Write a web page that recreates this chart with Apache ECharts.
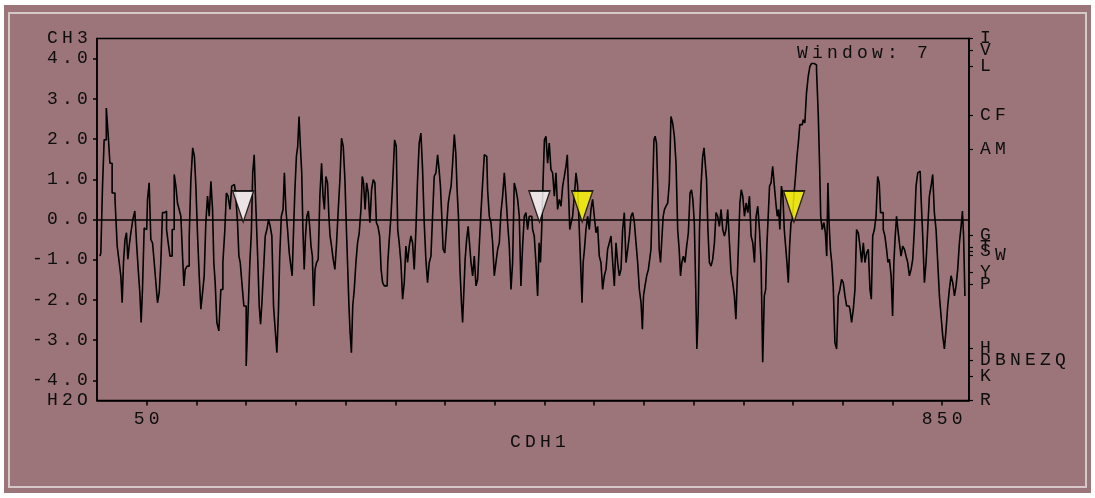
<!DOCTYPE html>
<html>
<head>
<meta charset="utf-8">
<title>CDH1 hydropathy</title>
<script src="https://cdn.jsdelivr.net/npm/echarts@6.0.0/dist/echarts.min.js"></script>
<style>
  html, body { margin: 0; padding: 0; background: #ffffff; }
  #bg { position: absolute; left: 4px; top: 5px; width: 1087px; height: 488px; background: #9b7579; }
  #edge { position: absolute; left: 8px; top: 12px; width: 1079px; height: 476px; box-sizing: border-box; border: 2px solid #d6c7c9; }
  #chart { position: absolute; left: 0; top: 0; width: 1095px; height: 498px; }
</style>
</head>
<body>
<div id="bg"></div>
<div id="edge"></div>
<div id="chart"></div>
<script>
// residue position along CDH1 and hydropathy (window 7)
const residue = [
  3, 4.7, 6.4, 8, 10.7, 12, 14, 16.4, 19.8, 20.8, 23.1, 24.8, 25.8, 27.5, 28.8, 30.5, 31.5, 33.2, 34.9, 37.2,
  38.9, 40.6, 42.3, 43.9, 44.9, 46.6, 48.3, 50, 51.6, 53.3, 55, 56.7, 58.4, 60, 61.7, 63.4, 65, 66.7, 69.1, 70.8,
  72.4, 74.4, 76.8, 78.5, 80.1, 81.8, 83.5, 85.2, 86.9, 87.9, 89.5, 91.9, 93.6, 95.2, 97.3, 98.6, 100.3, 102, 103.6, 105.3, 107,
  // 108-223
  108.6, 110.3, 112, 113.7, 115.4, 117, 118, 119.7, 121.4, 123.7, 125.4, 127.8, 129.4, 130.8, 132.8, 134.8, 136.2, 138.2, 140.5, 142.2,
  143.2, 144.9, 146.5, 148.9, 151.2, 152.9, 154.6, 155.9, 157.3, 158.9, 159.9, 161.3, 162.3, 164, 165, 166.7, 168.4, 170, 171.7, 173.4,
  175, 176.7, 178.4, 180, 181.8, 183.1, 184.4, 186.4, 187.8, 189.1, 190.8, 192.5, 194.2, 195.8, 196.8, 198.2, 199.9, 201.2, 202.5, 203.9,
  205.2, 206.6, 207.6, 209.2, 210.2, 211.9, 213.2, 214.6, 215.9, 217.3, 218.6, 220, 221.6, 223.3,
  // 225-335
  225, 226.7, 228, 229.4, 231, 232.7, 233.7, 235.1, 236.7, 238.4, 240.1, 241.8, 243.5, 245.1, 246.8, 248.5, 250.2, 251.5, 252.9, 253.9,
  255.2, 256.5, 257.9, 259.6, 261.2, 262.9, 264.6, 266.3, 267.3, 268.9, 270.3, 272, 273.6, 275.3, 277, 278.7, 280.3, 281.7, 283.4, 285.1,
  286.4, 288.1, 289.8, 291.8, 293.1, 294.8, 296.5, 298.5, 300.1, 301.8, 303.1, 304.8, 306.5, 308.2, 309.8, 311.5, 313.2, 314.9, 316.5, 318.2,
  319.9, 321.6, 323.2, 324.9, 326.6, 328.3, 329.9, 331.6, 333.3, 335,
  // 336-444
  336.7, 338.3, 340, 341.7, 343.4, 344.7, 346.1, 347.4, 348.8, 350.8, 352.4, 354.1, 355.5, 356.8, 358.5, 360.2, 361.5, 362.8, 364.2, 365.9,
  367.2, 368.2, 369.6, 370.9, 372.6, 373.9, 375.3, 377, 378.6, 380.3, 382, 383.6, 385.3, 387, 388.7, 390.4, 392, 393.7, 395.4, 397.1,
  398.7, 400.4, 402.1, 403.8, 405.4, 407.1, 408.8, 410.5, 412.1, 413.8, 415.5, 417.2, 418.8, 420.5, 422.2, 423.9, 425.5, 427.2, 428.9, 430.6,
  432.2, 433.9, 435.6, 437.3, 438.9, 440.6, 442.3, 444,
  // 445-555
  445.3, 446.7, 448, 449.3, 450.7, 452.4, 454, 455.7, 457.4, 459.1, 460.8, 462.4, 464.1, 465.8, 467.5, 469.2, 470.8, 472.5, 473.5, 474.8,
  476.2, 477.5, 479.2, 480.9, 482.6, 484.2, 485.9, 487.3, 488.3, 489.6, 490.9, 492.6, 494.3, 496, 497.6, 499.3, 501, 502.7, 504.3, 506,
  507.7, 509.4, 511.1, 512.7, 514.4, 516.1, 517.8, 519.5, 521.1, 522.8, 524.5, 526.2, 527.8, 529.5, 531.2, 532.9, 534.6, 536.2, 537.9, 539.6,
  541.3, 542.9, 544.6, 546.3, 548, 549, 550.3, 552, 553.7, 555.4,
  // 556-667
  556.3, 558, 559.6, 560.7, 562, 563.4, 564.7, 566.1, 567.4, 568.7, 570.1, 571.4, 573.1, 574.8, 576.4, 578.1, 579.8, 581.5, 583.2, 584.8,
  586.2, 587.5, 588.9, 590.5, 592.2, 593.9, 595.6, 597.3, 598.6, 599.9, 601.6, 602.6, 604, 605.3, 606.6, 608.3, 610, 611, 612.4, 613.7,
  615.1, 616.7, 618.4, 620.1, 621.8, 623.4, 625.1, 626.8, 628.5, 630.2, 631.8, 633.5, 635.2, 636.9, 638.5, 640.2, 641.9, 643.2, 644.6, 645.9,
  647.3, 648.6, 650.3, 652, 653.7, 655.4, 657, 658.7, 660.4, 662.1, 663.7, 665.4, 667.1,
  // 668-778
  668.7, 670.3, 672, 673, 674.4, 675.7, 677.1, 678.7, 680.4, 682.1, 683.4, 684.8, 686.1, 687.5, 689.2, 690.5, 691.9, 693.2, 694.6, 695.9,
  697.3, 698.6, 700, 701.7, 703.3, 704.7, 706, 707.7, 709.4, 711.1, 712.7, 714.4, 716.1, 717.8, 719.5, 721.1, 722.8, 724.5, 726.2, 727.2,
  728.5, 730.2, 731.9, 733.2, 734.6, 735.6, 736.9, 738.3, 739.6, 741.3, 743, 744.7, 746.3, 748, 749.7, 751.4, 753.1, 754.7, 756.4, 758.1,
  759.8, 761.5, 763.1, 764.8, 766.5, 768.2, 769.9, 771.5, 773.2, 774.9, 776.6, 778.2,
  // 779-874
  779.3, 781, 782.7, 784.3, 786, 787.4, 788.7, 790.1, 791.4, 793.4, 794.8, 796.1, 797.8, 799.5, 800.8, 802.1, 803.5, 804.8, 806.2, 807.8,
  809.5, 811.2, 812.9, 814.5, 816.2, 817.9, 819.6, 821.2, 822.9, 824.6, 826.3, 827.9, 829.6, 831.3, 833, 834.6, 836.3, 838, 839.7, 841.3,
  843, 844.7, 846.4, 848.1, 849.7, 851.4, 853.1, 854.8, 856.4, 858.1, 859.8, 861.5, 863.2, 864.8, 866.5, 868.2, 869.9, 870.9, 872.2, 873.6
];
const hydropathy = [
  -0.91, -0.83, 0.83, 1.98, 2.77, 2.07, 1.40, 0.66, 0.50, -0.66, -0.99, -1.40, -2.07, -1.07, -0.50, -0.33, -0.99, -0.66, -0.33, 0,
  0.21, -0.58, -1.24, -1.82, -2.56, -1.74, -0.21, -0.25, 0.50, 0.91, -0.50, -0.58, -1.07, -1.57, -2.07, -1.82, -1.07, 0.17, 0.21, -0.25,
  -0.58, -0.91, -0.25, 1.12, 0.83, 0.41, 0.25, 0.08, -0.91, -1.65, -1.24, -1.16, -0.41, 0.99, 1.78, 1.57, 0.83, -0.41, -1.40, -2.23, -1.82,
  // 108-223
  -1.40, -0.08, 0.58, 0.08, 0.95, 0.25, -1.07, -1.57, -2.56, -2.77, -1.74, -1.07, -0.25, 0.66, 0.58, 0.25, 0.83, 0.87, 0.66, -0.08,
  -0.91, -1.07, -1.57, -2.15, -3.64, -2.23, -1.07, -0.33, 1.16, 1.61, 0.58, -0.25, -1.07, -2.15, -2.60, -2.07, -1.24, -0.41, -0.25, 0,
  -0.17, -0.41, -2.15, -2.73, -3.31, -2.31, -0.91, 0.08, 0.25, 1.16, 0.25, -0.25, -0.83, -1.16, -1.40, -0.41, 0.74, 1.57, 1.82, 2.56,
  1.82, 1.16, -0.25, -1.24, -0.41, 0.08, 0.21, -0.17, -0.66, -0.91, -2.15, -1.24, -1.07, -0.99,
  // 225-335
  0.58, 1.40, 0.58, 0.25, 1.07, 0.91, 0.08, -0.41, -0.66, -0.99, -1.24, -0.58, 0.25, 0.99, 2.02, 1.82, 0.99, -0.25, -1.24, -2.15,
  -2.81, -3.31, -2.15, -1.74, -1.07, -0.58, -0.33, 0.25, 1.07, 0.91, 0.25, 0.91, 0.66, -0.08, 0.74, 0.99, 0.91, -0.08, -0.17, -0.41,
  -1.24, -1.57, -1.65, -1.65, -1.07, -0.50, 0.08, 0.99, 1.98, 1.82, -0.25, -0.58, -1.07, -1.98, -1.57, -0.66, -1.07, -0.66, -0.41, -0.58,
  -1.24, -0.25, 0.99, 1.90, 2.15, 1.24, -0.08, -0.99, -1.57, -1.07,
  // 336-444
  -0.91, 0.08, 1.07, 1.16, 1.61, 1.24, 0.83, 0.08, -0.74, -0.83, -0.17, 0.41, 0.66, 0.83, 1.40, 2.11, 1.65, 0.74, 0.08, -1.24,
  -2.07, -2.56, -1.82, -0.99, -0.50, -0.17, -0.58, -1.07, -1.40, -0.91, -1.65, -1.49, -0.66, 0.17, 0.91, 1.61, 1.57, 0.74, 0.08, -0.08,
  -0.58, -1.40, -1.07, -0.74, -0.58, 0.17, 0.58, 1.16, 0.58, -0.08, -0.66, -1.74, -1.07, 0.91, 0.74, 0.50, 0.08, -1.65, -0.66, 0.08,
  0.17, -0.25, 0.08, 0.08, -0.25, -0.41, -1.07, -1.90,
  // 445-555
  -0.58, -1.07, -0.17, 0.99, 1.98, 2.07, 1.40, 1.90, 1.24, 1.16, 0.58, 1.16, 0.25, 0.50, 0.33, 0.83, 1.07, 1.32, 1.61, 0.74,
  -0.25, -0.08, 0.08, 0.58, 1.16, 0.83, -0.25, -1.24, -2.07, -1.07, -0.74, -0.25, 0.08, -0.25, 0.25, 0.50, 0.08, -0.33, -0.17, -0.91,
  -1.07, -1.74, -1.40, -1.24, -0.74, -0.58, -0.41, -1.07, -1.65, -0.58, -1.07, -1.40, -1.24, -0.25, 0.17, -1.07, -0.74, -0.41, 0.08, 0.17,
  -0.08, -0.58, -1.07, -1.74, -2.07, -2.73, -1.90, -1.65, -1.40, -1.24,
  // 556-667
  -0.99, -0.74, 0.74, 1.98, 2.07, 1.90, 0.74, -0.74, -1.07, -0.50, 0.08, 0.25, 0.33, 0.41, 0.91, 2.56, 2.40, 2.07, 1.40, -0.25,
  -0.74, -1.40, -1.07, -0.91, -1.07, -0.66, -0.33, 0.66, 0.74, 0.50, -0.08, -1.65, -3.22, -2.31, -0.25, 0.83, 1.57, 1.78, 1.40, 0.99,
  -0.25, -1.07, -1.16, -0.99, -0.58, 0.17, 0.08, -0.17, 0.25, -0.25, -0.41, -0.25, 0.25, -0.58, -1.32, -1.57, -1.90, -2.48, -1.49, -0.58,
  0.41, 0.74, 0.58, 0.08, 0.41, 0.17, 0.58, -0.41, -0.58, -1.07, 0.08, 0.33, -0.25,
  // 668-778
  -1.07, -3.55, -1.90, -1.74, -0.66, 0.08, 0.83, 0.91, 1.32, 0.83, 0.41, 0.08, 0.25, -0.25, 0.83, 0.58, -0.25, -0.66, -1.07, -1.57,
  -0.66, -0.08, 0, 0.58, 1.07, 1.57, 1.90, 2.36, 2.36, 2.48, 2.40, 3.14, 3.55, 3.80, 3.88, 3.88, 3.84, 3.72, 2.64, 1.40,
  0.08, -0.25, -0.08, -0.33, -0.91, 0.91, -0.08, -0.74, -1.07, -1.65, -3.06, -3.22, -1.90, -1.74, -1.49, -1.57, -1.90, -2.15, -2.15, -2.23,
  -2.56, -2.23, -1.74, -0.25, -0.33, -0.66, -1.07, -0.58, -1.07, -0.83, -0.74, -1.74,
  // 779-874
  -1.98, -0.41, -0.25, 0.08, 1.07, 0.91, 0.17, 0.17, -0.25, -0.41, -0.74, -1.07, -0.99, -1.40, -2.40, -1.07, -0.41, 0.08, -0.25, -0.58,
  -0.91, -0.66, -0.74, -0.91, -1.07, -1.40, -1.24, -0.99, -0.25, 0.83, 1.16, 1.20, 0.58, -0.41, -1.57, -1.07, -0.25, 0.58, 0.83, 1.12,
  0.17, -0.25, -1.07, -1.90, -2.40, -2.89, -3.22, -2.73, -2.15, -1.74, -1.40, -1.57, -1.90, -1.65, -1.24, -0.58, -0.17, 0.21, -0.41, -1.90
];

const xTicks = [50, 100, 150, 200, 250, 300, 350, 400, 450, 500, 550, 600, 650, 700, 750, 800, 850];
const xLabels = [50, 850];
const leftTicks = [4, 3, 2, 1, 0, -1, -2, -3, -4];
const leftLabels = [4.5, 4, 3, 2, 1, 0, -1, -2, -3, -4, -4.5];
// Kyte-Doolittle residue scale on the right
const scaleValues = [4.5, 4.2, 3.8, 2.6, 1.75, -0.4, -0.7, -0.8, -0.9, -1.3, -1.6, -3.2, -3.5, -3.9, -4.5];
const scaleNames = ['I', 'V', 'L', 'CF', 'AM', 'G', 'T', 'S', ' W', 'Y', 'P', 'H', 'DBNEZQ', 'K', 'R'];
const whiteMarks = [147, 445];
const yellowMarks = [488, 701];

// old bitmap font is wide: give every character its own fixed box
const charStyle = {
  width: 15, align: 'center', fontSize: 18, lineHeight: 18,
  fontFamily: 'Liberation Mono', fontWeight: 'normal', color: '#0d0d0d'
};
function wide(s) {
  return s.split('').map(function (ch) { return '{c|' + ch + '}'; }).join('');
}
function scaleName(v) {
  for (let i = 0; i < scaleValues.length; i++) {
    if (Math.abs(scaleValues[i] - v) < 1e-6) return wide(scaleNames[i]);
  }
  return '';
}

const line = residue.map(function (r, i) { return [r, hydropathy[i]]; });
// letters are split over two axes (alternating) so the end labels never
// collide with their neighbour and ECharts keeps all of them
const scaleA = scaleValues.filter(function (v, i) { return i % 2 === 0; });
const scaleB = scaleValues.filter(function (v, i) { return i % 2 === 1; });

function scaleAxis(values, showLine) {
  return {
    type: 'value', min: -4.5, max: 4.5, position: 'right',
    axisLine: { show: showLine, onZero: false, lineStyle: { color: '#000', width: 1.5 } },
    axisTick: { length: 4, customValues: values, lineStyle: { color: '#000', width: 1.2 } },
    axisLabel: {
      customValues: values, margin: 9, rich: { c: charStyle },
      hideOverlap: false, formatter: scaleName
    },
    splitLine: { show: false }
  };
}

let myChart = echarts.init(document.getElementById('chart'));
myChart.setOption({
  animation: false,
  backgroundColor: 'transparent',
  title: {
    text: wide('Window: 7'),
    left: 795, top: 44, padding: 0,
    textStyle: { fontWeight: 'normal', rich: { c: charStyle } }
  },
  grid: {
    left: 97, top: 38.5, width: 872, height: 362,
    show: true, borderColor: '#000', borderWidth: 1.5,
    outerBoundsMode: 'none'
  },
  xAxis: {
    type: 'value', min: 0, max: 877,
    name: wide('CDH1'), nameLocation: 'middle', nameGap: 25,
    nameTextStyle: { rich: { c: charStyle }, padding: [0, 0, 0, 10] },
    axisLine: { onZero: false, lineStyle: { color: '#000', width: 1.5 } },
    axisTick: { length: 5, customValues: xTicks, lineStyle: { color: '#000', width: 1.5 } },
    axisLabel: {
      customValues: xLabels, margin: 10, rich: { c: charStyle },
      formatter: function (v) { return wide(String(v)); }
    },
    splitLine: { show: false }
  },
  yAxis: [
    {
      type: 'value', min: -4.5, max: 4.5, position: 'left',
      axisLine: { onZero: false, lineStyle: { color: '#000', width: 1.5 } },
      axisTick: { length: 4, customValues: leftTicks, lineStyle: { color: '#000', width: 1.5 } },
      axisLabel: {
        customValues: leftLabels, margin: 7, rich: { c: charStyle },
        hideOverlap: false,
        formatter: function (v) {
          if (v > 4.4) return wide('CH3');
          if (v < -4.4) return wide('H2O');
          return wide(v.toFixed(1));
        }
      },
      splitLine: { show: false }
    },
    scaleAxis(scaleA, true),
    scaleAxis(scaleB, false)
  ],
  series: [
    {
      type: 'line',
      data: line,
      step: 'middle',
      symbol: 'none',
      lineStyle: { color: '#000', width: 1.6 },
      markLine: {
        silent: true, symbol: 'none', label: { show: false },
        lineStyle: { color: '#000', width: 1.5, type: 'solid' },
        data: [{ yAxis: 0 }]
      }
    },
    {
      type: 'scatter',
      data: whiteMarks.map(function (r) { return [r, 0]; }),
      symbol: 'triangle', symbolRotate: 180, symbolSize: [21, 31], symbolOffset: [0, -13],
      itemStyle: { color: '#ffffff', borderColor: '#000', borderWidth: 1.5 },
      z: 5
    },
    {
      type: 'scatter',
      data: yellowMarks.map(function (r) { return [r, 0]; }),
      symbol: 'triangle', symbolRotate: 180, symbolSize: [21, 31], symbolOffset: [0, -13],
      itemStyle: { color: '#ffff00', borderColor: '#000', borderWidth: 1.5 },
      z: 5
    }
  ]
});
</script>
</body>
</html>
